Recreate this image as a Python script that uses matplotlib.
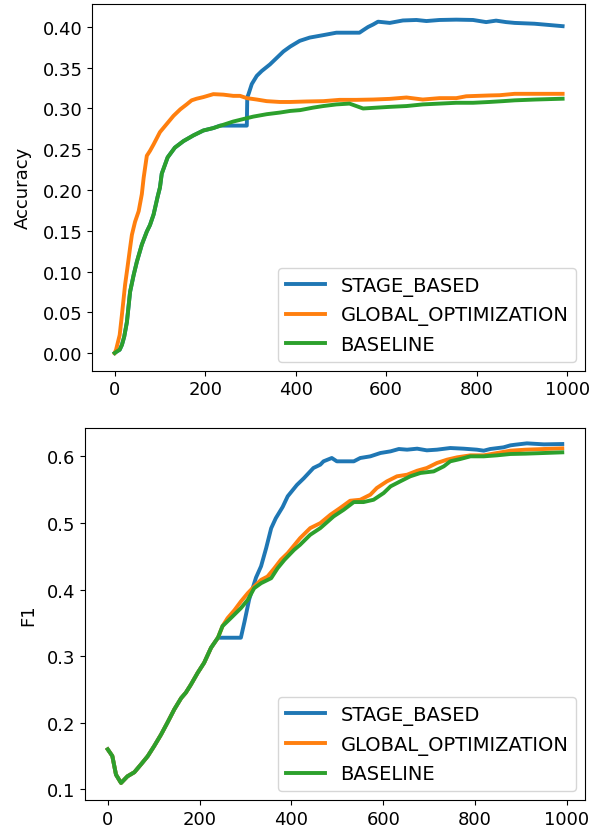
import matplotlib
matplotlib.use("Agg")
import matplotlib.pyplot as plt

# ---------------- Accuracy (top) ----------------
base_acc_x = [0, 5, 11, 16, 21, 27, 34, 42, 49, 60, 71, 78, 86, 95, 100, 104, 117, 133, 152, 174,
              196, 218, 240, 262, 284, 306, 336, 365, 388, 410, 438, 461, 490, 519, 534, 549, 578,
              608, 645, 681, 718, 755, 792, 828, 858, 884, 930, 990]
base_acc = [0.000, 0.002, 0.004, 0.010, 0.020, 0.038, 0.075, 0.096, 0.112, 0.133, 0.149, 0.157,
            0.170, 0.192, 0.203, 0.220, 0.240, 0.252, 0.260, 0.267, 0.273, 0.276, 0.280, 0.284,
            0.287, 0.290, 0.293, 0.295, 0.297, 0.298, 0.301, 0.303, 0.305, 0.306, 0.303, 0.300,
            0.301, 0.302, 0.303, 0.305, 0.306, 0.307, 0.307, 0.308, 0.309, 0.310, 0.311, 0.312]

stage_acc_x = [0, 5, 11, 16, 21, 27, 34, 42, 49, 60, 71, 78, 86, 95, 100, 104, 117, 133, 152, 174,
               196, 218, 233, 292, 293, 296, 303, 314, 325, 343, 358, 373, 388, 409, 431, 461, 490,
               519, 541, 549, 560, 571, 582, 608, 637, 667, 689, 718, 755, 792, 821, 843, 865, 884,
               928, 990]
stage_acc = [0.000, 0.002, 0.004, 0.010, 0.020, 0.038, 0.075, 0.096, 0.112, 0.133, 0.149, 0.157,
             0.170, 0.192, 0.203, 0.220, 0.240, 0.252, 0.260, 0.267, 0.273, 0.276, 0.279, 0.279,
             0.3135, 0.318, 0.330, 0.340, 0.346, 0.354, 0.362, 0.370, 0.376, 0.383, 0.387, 0.390,
             0.393, 0.393, 0.393, 0.396, 0.400, 0.403, 0.4065, 0.405, 0.408, 0.4086, 0.4073,
             0.4086, 0.409, 0.4086, 0.406, 0.4078, 0.406, 0.405, 0.404, 0.401]

glob_acc_x = [0, 3, 11, 16, 23, 28, 34, 38, 45, 53, 60, 64, 71, 78, 86, 100, 115, 130, 145, 159,
              170, 181, 196, 218, 240, 262, 277, 292, 314, 336, 365, 388, 424, 461, 497, 534, 571,
              608, 645, 681, 718, 755, 777, 828, 851, 884, 930, 990]
glob_acc = [0.000, 0.004, 0.022, 0.047, 0.084, 0.104, 0.129, 0.145, 0.161, 0.174, 0.195, 0.215,
            0.242, 0.248, 0.256, 0.271, 0.281, 0.291, 0.299, 0.305, 0.310, 0.312, 0.314, 0.3176,
            0.317, 0.3155, 0.3155, 0.3127, 0.311, 0.309, 0.308, 0.308, 0.3086, 0.309, 0.3106,
            0.3106, 0.311, 0.3118, 0.3135, 0.311, 0.3127, 0.3127, 0.315, 0.316, 0.3163, 0.318,
            0.318, 0.318]

# ---------------- F1 (bottom) ----------------
base_f1_x = [0, 10, 18, 29, 43, 58, 72, 87, 101, 116, 130, 145, 160, 170, 181, 196, 210, 225, 240,
             250, 268, 290, 305, 319, 334, 356, 370, 385, 406, 419, 441, 463, 492, 514, 536, 557,
             579, 601, 616, 637, 659, 681, 710, 732, 746, 768, 790, 819, 848, 877, 910, 950, 990]
base_f1 = [0.160, 0.150, 0.122, 0.1095, 0.1195, 0.1256, 0.137, 0.1496, 0.1647, 0.182, 0.200,
           0.220, 0.237, 0.245, 0.257, 0.275, 0.290, 0.3125, 0.3276, 0.345, 0.357, 0.372, 0.3845,
           0.402, 0.4095, 0.417, 0.432, 0.4446, 0.4596, 0.4672, 0.4822, 0.4922, 0.5098, 0.5198,
           0.5313, 0.5313, 0.5348, 0.5449, 0.5549, 0.5624, 0.570, 0.575, 0.5774, 0.585, 0.5925,
           0.596, 0.600, 0.600, 0.6015, 0.6035, 0.604, 0.605, 0.606]

glob_f1_x = [0, 10, 18, 29, 43, 58, 72, 87, 101, 116, 130, 145, 160, 170, 181, 196, 210, 225, 240,
             250, 261, 276, 290, 305, 319, 334, 348, 363, 377, 392, 419, 441, 463, 485, 506, 528,
             550, 572, 586, 608, 630, 652, 674, 695, 717, 739, 761, 790, 819, 848, 877, 910, 950,
             990]
glob_f1 = [0.160, 0.150, 0.122, 0.1095, 0.1195, 0.1256, 0.137, 0.1496, 0.1647, 0.182, 0.200,
           0.220, 0.237, 0.245, 0.257, 0.275, 0.290, 0.3125, 0.3276, 0.345, 0.357, 0.369, 0.382,
           0.3945, 0.4045, 0.4145, 0.4195, 0.432, 0.4446, 0.4546, 0.4772, 0.4922, 0.4997, 0.5123,
           0.5223, 0.5333, 0.5348, 0.5424, 0.5524, 0.5624, 0.570, 0.5724, 0.5784, 0.5825, 0.590,
           0.595, 0.5985, 0.6015, 0.6015, 0.605, 0.6085, 0.610, 0.611, 0.612]

stage_f1_x = [0, 10, 18, 29, 43, 58, 72, 87, 101, 116, 130, 145, 160, 170, 181, 196, 210, 225, 240,
              290, 298, 308, 323, 334, 345, 356, 366, 381, 392, 412, 427, 448, 463, 470, 488, 499,
              514, 536, 550, 572, 594, 616, 634, 652, 674, 695, 717, 746, 775, 804, 819, 833, 862,
              877, 888, 913, 950, 990]
stage_f1 = [0.160, 0.150, 0.122, 0.1095, 0.1195, 0.1256, 0.137, 0.1496, 0.1647, 0.182, 0.200,
            0.220, 0.237, 0.245, 0.257, 0.275, 0.290, 0.3125, 0.3276, 0.3276, 0.352, 0.385, 0.418,
            0.435, 0.462, 0.492, 0.507, 0.524, 0.540, 0.557, 0.567, 0.5825, 0.5875, 0.5925,
            0.5975, 0.5925, 0.5925, 0.5925, 0.5975, 0.600, 0.605, 0.6075, 0.611, 0.610, 0.6115,
            0.609, 0.610, 0.6125, 0.6115, 0.610, 0.6085, 0.611, 0.6135, 0.6165, 0.6175, 0.6195,
            0.618, 0.6185]

labels = ["STAGE_BASED", "GLOBAL_OPTIMIZATION", "BASELINE"]
colors = ["#1f77b4", "#ff7f0e", "#2ca02c"]
LW = 2.8

fig = plt.figure(figsize=(5.99, 8.29), dpi=100)
W, H = 599.0, 829.0

ax1 = fig.add_axes([92.3 / W, 1 - 371.7 / H, (585 - 92.3) / W, (371.7 - 5) / H])
ax2 = fig.add_axes([85 / W, 1 - 801 / H, (585 - 85) / W, (801 - 429.3) / H])

ax1.plot(stage_acc_x, stage_acc, color=colors[0], lw=LW, label=labels[0])
ax1.plot(glob_acc_x, glob_acc, color=colors[1], lw=LW, label=labels[1])
ax1.plot(base_acc_x, base_acc, color=colors[2], lw=LW, label=labels[2])
ax1.set_xlim(-49.5, 1039.5)
ax1.set_ylim(-0.0217, 0.4282)
ax1.set_yticks([0.0, 0.05, 0.10, 0.15, 0.20, 0.25, 0.30, 0.35, 0.40])
ax1.set_yticklabels(["0.00", "0.05", "0.10", "0.15", "0.20", "0.25", "0.30", "0.35", "0.40"])
ax1.set_xticks([0, 200, 400, 600, 800, 1000])
ax1.set_ylabel("Accuracy", fontsize=13)
ax1.yaxis.set_label_coords((31.5 - 92.3) / (585 - 92.3), 0.5)
ax1.legend(loc="lower right", fontsize=14, borderaxespad=0.45)

ax2.plot(stage_f1_x, stage_f1, color=colors[0], lw=LW, label=labels[0])
ax2.plot(glob_f1_x, glob_f1, color=colors[1], lw=LW, label=labels[1])
ax2.plot(base_f1_x, base_f1, color=colors[2], lw=LW, label=labels[2])
ax2.set_xlim(-49.5, 1039.5)
ax2.set_ylim(0.0839, 0.6421)
ax2.set_yticks([0.1, 0.2, 0.3, 0.4, 0.5, 0.6])
ax2.set_xticks([0, 200, 400, 600, 800, 1000])
ax2.set_ylabel("F1", fontsize=13)
ax2.yaxis.set_label_coords((37 - 85) / 500.0, 0.5)
ax2.legend(loc="lower right", fontsize=14, borderaxespad=0.45)

for ax in (ax1, ax2):
    ax.tick_params(labelsize=13)

fig.savefig("out.png", dpi=100)
